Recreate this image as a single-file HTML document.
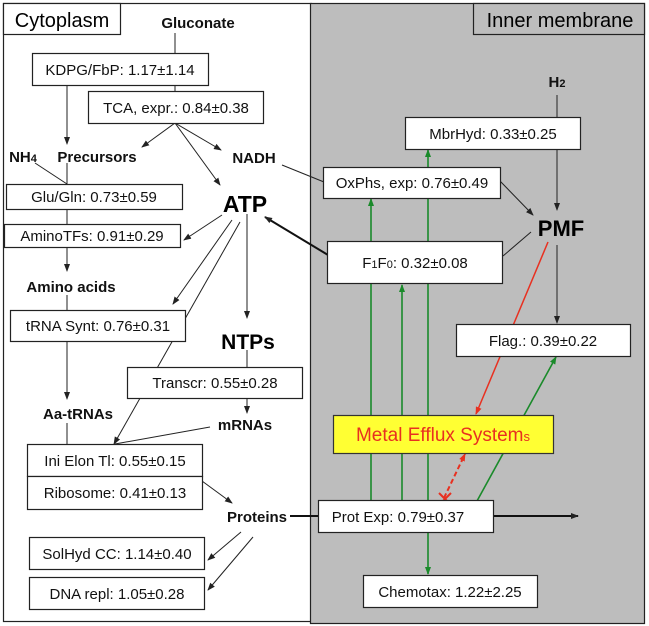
<!DOCTYPE html>
<html><head><meta charset="utf-8"><style>
html,body{margin:0;padding:0;background:#fff}
svg{display:block;font-family:"Liberation Sans",Arial,sans-serif}
.b{fill:#fff;stroke:#222;stroke-width:1.2}
.t{font-size:15px;fill:#111;text-anchor:middle}
.bl{font-weight:bold;font-size:15px;fill:#111;text-anchor:middle}
.k{stroke:#222;stroke-width:1;fill:none}
.g{stroke:#1a8a2a;stroke-width:1.6;fill:none}
</style></head><body>
<svg width="649" height="626" viewBox="0 0 649 626">
<defs>
<marker id="a" markerWidth="8" markerHeight="8" refX="7" refY="4" orient="auto" markerUnits="userSpaceOnUse"><path d="M0,1 L8,4 L0,7z" fill="#222"/></marker>
<marker id="ag" markerWidth="8" markerHeight="8" refX="7" refY="4" orient="auto" markerUnits="userSpaceOnUse"><path d="M0,1 L8,4 L0,7z" fill="#1a8a2a"/></marker>
<marker id="ar" markerWidth="8" markerHeight="8" refX="7" refY="4" orient="auto" markerUnits="userSpaceOnUse"><path d="M0,1 L8,4 L0,7z" fill="#e83020"/></marker>
</defs>
<rect x="3.5" y="3.5" width="308" height="618" fill="#fff" stroke="#222" stroke-width="1.2"/>
<rect x="310.5" y="3.5" width="334" height="620" fill="#bdbdbd" stroke="#222" stroke-width="1.2"/>
<rect x="3.5" y="3.5" width="117" height="31" class="b"/>
<text x="62" y="27" style="font-size:20px;text-anchor:middle">Cytoplasm</text>
<rect x="473.5" y="3.5" width="171" height="31" fill="#bdbdbd" stroke="#222" stroke-width="1.2"/>
<text x="560" y="27" style="font-size:20px;text-anchor:middle">Inner membrane</text>

<line x1="175" y1="33" x2="175" y2="91" class="k"/>
<line x1="67" y1="85" x2="67" y2="144" class="k" marker-end="url(#a)"/>
<line x1="175" y1="123" x2="142" y2="147" class="k" marker-end="url(#a)"/>
<line x1="175" y1="123" x2="221" y2="150" class="k" marker-end="url(#a)"/>
<line x1="175" y1="123" x2="220" y2="185" class="k" marker-end="url(#a)"/>
<line x1="35" y1="163" x2="67" y2="184" class="k"/>
<line x1="67" y1="163" x2="67" y2="184" class="k"/>
<line x1="67" y1="209" x2="67" y2="224" class="k"/>
<line x1="67" y1="247" x2="67" y2="271" class="k" marker-end="url(#a)"/>
<line x1="67" y1="295" x2="67" y2="310" class="k"/>
<line x1="282" y1="165" x2="324" y2="182" class="k"/>
<line x1="222" y1="215" x2="184" y2="240" class="k" marker-end="url(#a)"/>
<line x1="232" y1="220" x2="173" y2="304" class="k" marker-end="url(#a)"/>
<line x1="240" y1="222" x2="114" y2="444" class="k" marker-end="url(#a)"/>
<line x1="247" y1="214" x2="247" y2="318" class="k" marker-end="url(#a)"/>
<line x1="328" y1="255" x2="265" y2="217" stroke="#111" stroke-width="2" marker-end="url(#a)"/>
<line x1="247" y1="350" x2="247" y2="367" class="k"/>
<line x1="247" y1="398" x2="247" y2="413" class="k" marker-end="url(#a)"/>
<line x1="67" y1="341" x2="67" y2="399" class="k" marker-end="url(#a)"/>
<line x1="67" y1="423" x2="67" y2="444" class="k"/>
<line x1="210" y1="427" x2="115" y2="444" class="k"/>
<line x1="202" y1="481" x2="232" y2="503" class="k" marker-end="url(#a)"/>
<line x1="241" y1="532" x2="208" y2="560" class="k" marker-end="url(#a)"/>
<line x1="253" y1="537" x2="208" y2="590" class="k" marker-end="url(#a)"/>
<line x1="290" y1="516" x2="578" y2="516" stroke="#111" stroke-width="2" marker-end="url(#a)"/>

<line x1="557" y1="95" x2="557" y2="117" class="k"/>
<line x1="557" y1="149" x2="557" y2="210" class="k" marker-end="url(#a)"/>
<line x1="500" y1="181" x2="533" y2="215" class="k" marker-end="url(#a)"/>
<line x1="531" y1="232" x2="503" y2="256" class="k"/>
<line x1="557" y1="245" x2="557" y2="323" class="k" marker-end="url(#a)"/>
<line x1="548" y1="242" x2="476" y2="414" stroke="#e83020" stroke-width="1.5" marker-end="url(#ar)"/>
<line x1="371" y1="501" x2="371" y2="199" class="g" marker-end="url(#ag)"/>
<line x1="402" y1="501" x2="402" y2="285" class="g" marker-end="url(#ag)"/>
<line x1="428" y1="501" x2="428" y2="150" class="g" marker-end="url(#ag)"/>
<line x1="428" y1="532" x2="428" y2="574" class="g" marker-end="url(#ag)"/>
<line x1="477" y1="501" x2="556" y2="357" class="g" marker-end="url(#ag)"/>
<line x1="444" y1="498" x2="465" y2="454" stroke="#e83020" stroke-width="2" stroke-dasharray="5,3" marker-end="url(#ar)"/>
<path d="M439,493 L451,505 M451,493 L439,505" stroke="#e83020" stroke-width="2"/>

<text x="198" y="28" class="bl">Gluconate</text>
<text x="23" y="162" class="bl">NH<tspan font-size="11">4</tspan></text>
<text x="97" y="162" class="bl">Precursors</text>
<text x="254" y="163" class="bl">NADH</text>
<text x="245" y="212" style="font-weight:bold;font-size:23px;text-anchor:middle">ATP</text>
<text x="71" y="292" class="bl">Amino acids</text>
<text x="248" y="349" style="font-weight:bold;font-size:21px;text-anchor:middle">NTPs</text>
<text x="78" y="419" class="bl">Aa-tRNAs</text>
<text x="245" y="430" class="bl">mRNAs</text>
<text x="257" y="522" class="bl">Proteins</text>
<text x="557" y="87" class="bl">H<tspan font-size="11">2</tspan></text>
<text x="561" y="236" style="font-weight:bold;font-size:22px;text-anchor:middle">PMF</text>

<rect x="32.5" y="53.5" width="176" height="32" class="b"/><text x="120" y="75" class="t">KDPG/FbP: 1.17±1.14</text>
<rect x="88.5" y="91.5" width="175" height="32" class="b"/><text x="176" y="113" class="t">TCA, expr.: 0.84±0.38</text>
<rect x="6.5" y="184.5" width="176" height="25" class="b"/><text x="94" y="202" class="t">Glu/Gln: 0.73±0.59</text>
<rect x="4.5" y="224.5" width="176" height="23" class="b"/><text x="92" y="241" class="t">AminoTFs: 0.91±0.29</text>
<rect x="10.5" y="310.5" width="175" height="31" class="b"/><text x="98" y="331" class="t">tRNA Synt: 0.76±0.31</text>
<rect x="127.5" y="367.5" width="175" height="31" class="b"/><text x="215" y="388" class="t">Transcr: 0.55±0.28</text>
<rect x="27.5" y="444.5" width="175" height="32" class="b"/><text x="115" y="466" class="t">Ini Elon Tl: 0.55±0.15</text>
<rect x="27.5" y="476.5" width="175" height="33" class="b"/><text x="115" y="498" class="t">Ribosome: 0.41±0.13</text>
<rect x="29.5" y="537.5" width="175" height="32" class="b"/><text x="117" y="559" class="t">SolHyd CC: 1.14±0.40</text>
<rect x="29.5" y="577.5" width="175" height="32" class="b"/><text x="117" y="599" class="t">DNA repl: 1.05±0.28</text>
<rect x="405.5" y="117.5" width="175" height="32" class="b"/><text x="493" y="139" class="t">MbrHyd: 0.33±0.25</text>
<rect x="323.5" y="167.5" width="177" height="31" class="b"/><text x="412" y="188" class="t">OxPhs, exp: 0.76±0.49</text>
<rect x="327.5" y="241.5" width="175" height="42" class="b"/><text x="415" y="268" class="t">F<tspan font-size="11">1</tspan>F<tspan font-size="11">0</tspan>: 0.32±0.08</text>
<rect x="456.5" y="324.5" width="174" height="32" class="b"/><text x="543" y="346" class="t">Flag.: 0.39±0.22</text>
<rect x="333.5" y="415.5" width="220" height="38" fill="#ffff33" stroke="#333" stroke-width="1.2"/>
<text x="443" y="441" style="font-size:19px;fill:#e83020;text-anchor:middle">Metal Efflux System<tspan font-size="13">s</tspan></text>
<rect x="318.5" y="500.5" width="175" height="32" class="b"/><text x="398" y="522" class="t">Prot Exp: 0.79±0.37</text>
<rect x="363.5" y="575.5" width="174" height="32" class="b"/><text x="450" y="597" class="t">Chemotax: 1.22±2.25</text>
</svg>
</body></html>
